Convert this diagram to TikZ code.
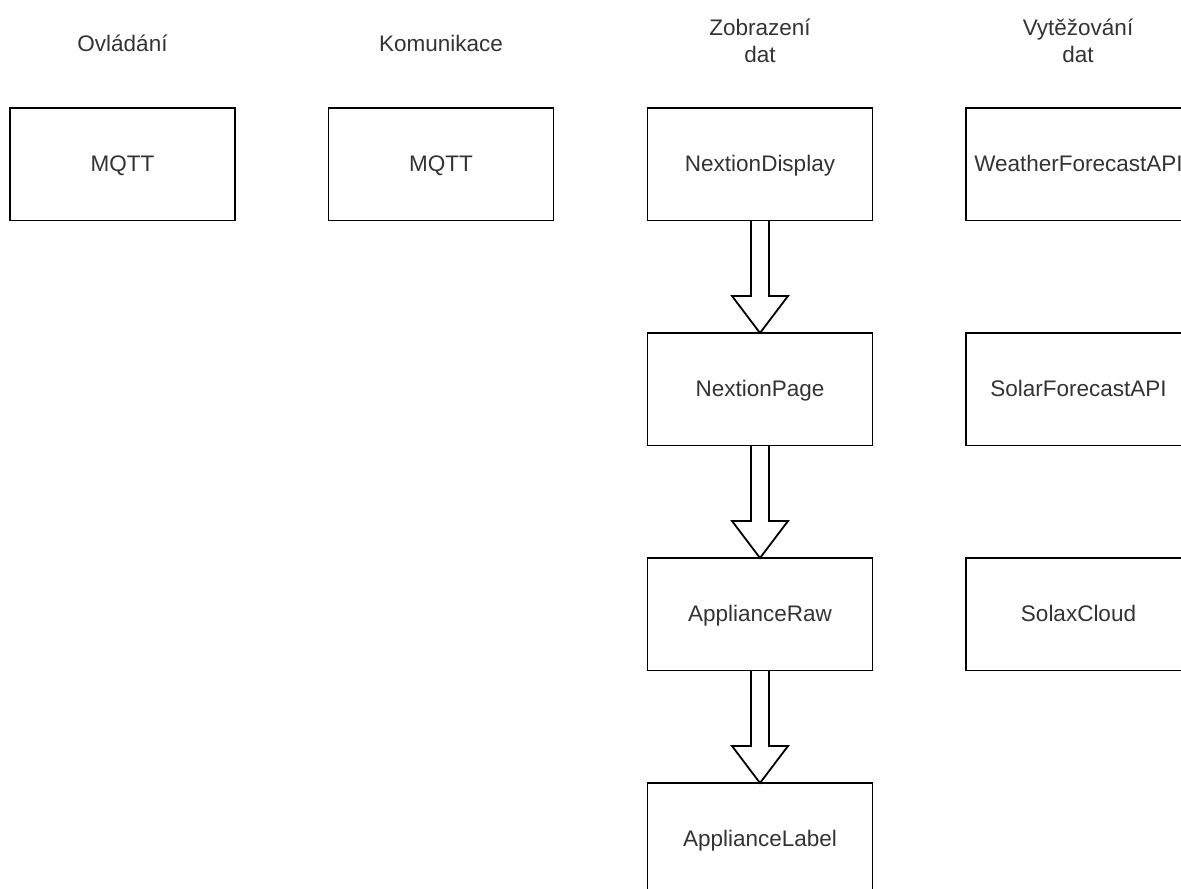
\documentclass[tikz,border=0pt]{standalone}
\usepackage{fontspec}
\setmainfont{Liberation Sans}
\usetikzlibrary{positioning, calc}

\tikzset{
  box/.style={draw, line width=0.9pt, minimum width=112.5pt, minimum height=56.25pt,
    inner sep=0pt, outer sep=0pt, text height=0.72em, text depth=0pt,
    font=\fontsize{11.25}{13.5}\selectfont, text=black!80},
  heading/.style={align=center, inner sep=0pt, font=\fontsize{11.25}{13.5}\selectfont, text=black!80},
  fatarrow/.style={draw, line width=0.9pt, line join=miter}
}

\begin{document}
\begin{tikzpicture}[x=0.5pt, y=-0.5pt, node distance=56.25pt]
  \useasboundingbox (0,0) rectangle (1181,888);
  \clip (0,0) rectangle (1181,888);

  % column headings
  \node[heading] (hctl) at (122.5,43) {Ovládání};
  \node[heading] (hcom) at (441,43) {Komunikace};
  \node[heading] (hdisp) at (760,41) {Zobrazení\\dat};
  \node[heading] (hdata) at (1078,41) {Vytěžování\\dat};

  % first row
  \node[box] (mqttctl) at (122.5,164.25) {MQTT};
  \node[box] (mqttcom) at (441,164.25) {MQTT};
  \node[box] (disp) at (760,164.25) {NextionDisplay};
  \node[box] (weather) at (1078.5,164.25) {WeatherForecastAPI};

  % display chain
  \node[box, below=of disp] (page) {NextionPage};
  \node[box, below=of page] (raw) {ApplianceRaw};
  \node[box, below=of raw] (label) {ApplianceLabel};

  % data sources
  \node[box, below=of weather] (solar) {SolarForecastAPI};
  \node[box, below=of solar] (solax) {SolaxCloud};

  % block arrows
  \foreach \a/\b in {disp/page, page/raw, raw/label} {
    \draw[fatarrow] ($(\a.south)+(-9,0)$) -- ($(\b.north)+(-9,-37)$) -- ($(\b.north)+(-28,-37)$)
      -- (\b.north) -- ($(\b.north)+(28,-37)$) -- ($(\b.north)+(9,-37)$) -- ($(\a.south)+(9,0)$);
  }
\end{tikzpicture}
\end{document}
